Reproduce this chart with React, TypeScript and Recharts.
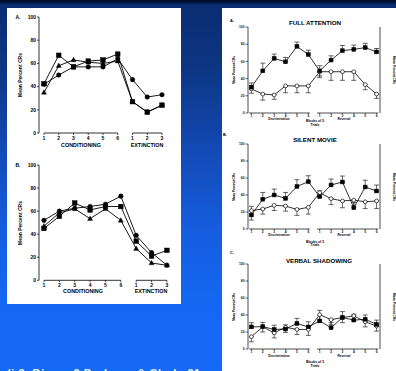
import React from 'react';
import { LineChart, Line, XAxis, YAxis, ErrorBar, ReferenceLine } from 'recharts';

const FONT = '"Liberation Sans", Arial, Helvetica, sans-serif';

// ---- Left figure: conditioning blocks 1–6 followed by extinction blocks 1–3
const conditioningBlocks = ['1', '2', '3', '4', '5', '6'];
const extinctionBlocks = ['1', '2', '3'];
const percentTicks = [0, 20, 40, 60, 80, 100];

// Panel A
const aSquares = [42.5, 67, 57, 62, 63, 68, 27, 18, 24];
const aTriangles = [35, 58, 63, 61, 60, 62, 27, 18, 24];
const aCircles = [42, 50, 57, 57, 57, 64, 46, 31, 33];

// Panel B
const bCircles = [52, 60, 62.5, 64, 66, 73, 39, 24, 13];
const bSquares = [45, 55.5, 67, 61, 64, 64, 34, 21, 26];
const bTriangles = [47, 58.5, 62, 53.5, 62, 52, 27.5, 15, 13];

// ---- Right figure: discrimination blocks 1–6 then reversal blocks 1–6
const discriminationBlocks = ['1', '2', '3', '4', '5', '6'];
const reversalBlocks = ['1', '2', '3', '4', '5', '6'];

// Full attention
const fullFilled = [30, 49, 63.5, 59.5, 77.5, 68, 49, 61.5, 72.5, 74, 76, 71];
const fullFilledUp = [5, 9, 5, 5, 5, 5, 6, 5, 6, 5, 5, 4];
const fullFilledDown = [0, 0, 0, 0, 0, 0, 6, 0, 0, 0, 0, 0];
const fullOpen = [28, 22, 21, 31.5, 31.5, 31.5, 48, 48, 48, 48, 33, 22];
const fullOpenUp = [4, 0, 0, 0, 0, 0, 0, 0, 0, 0, 0, 0];
const fullOpenDown = [5, 7, 5, 8, 8, 8, 7, 10, 10, 10, 6, 5];

// Silent movie
const silentFilled = [16.5, 35, 40, 36, 50, 55.7, 38, 51.8, 55.3, 25, 49.4, 44.7];
const silentFilledUp = [0, 8, 7, 7, 8, 7, 7, 7, 7, 6, 8, 7];
const silentFilledDown = [6, 0, 0, 0, 0, 0, 0, 0, 0, 0, 0, 0];
const silentOpen = [21.6, 23.5, 27.8, 27, 23, 25.5, 42.7, 35.7, 33, 34, 32, 33];
const silentOpenUp = [5, 0, 0, 0, 0, 0, 0, 0, 0, 0, 0, 0];
const silentOpenDown = [0, 6, 6, 6, 7, 8, 5, 7, 8, 7, 8, 9];

// Verbal shadowing
const verbalFilled = [26, 26.3, 23, 23.5, 30, 26, 33, 25, 37, 34, 35, 29];
const verbalFilledUp = [5, 5, 5, 5, 6, 6, 7, 6, 7, 7, 5, 5];
const verbalFilledDown = [0, 0, 0, 0, 0, 0, 0, 0, 0, 0, 0, 0];
const verbalOpen = [14.5, 26, 19, 25.5, 23, 23, 40.4, 34.5, 37, 39, 32, 27];
const verbalOpenUp = [0, 0, 0, 0, 0, 0, 5, 0, 0, 0, 0, 0];
const verbalOpenDown = [6, 6, 6, 6, 6, 7, 6, 6, 6, 6, 6, 6];

const leftLabels = [...conditioningBlocks, ...extinctionBlocks];
const rightLabels = [...discriminationBlocks, ...reversalBlocks];

const leftRows = (sq: number[], tri: number[], ci: number[]) =>
  leftLabels.map((_, i) => ({ x: i + 1, sq: sq[i], tri: tri[i], ci: ci[i] }));

const rightRows = (
  filled: number[], fUp: number[], fDown: number[],
  open: number[], oUp: number[], oDown: number[],
) =>
  rightLabels.map((_, i) => ({
    x: i + 1,
    filled: filled[i],
    fErr: [fDown[i], fUp[i]],
    open: open[i],
    oErr: [oDown[i], oUp[i]],
  }));

// ---- marker shapes
const squareDot = (size: number, fill: string) => (p: any) => (
  <rect key={`s${p.index}`} x={p.cx - size / 2} y={p.cy - size / 2} width={size} height={size}
    fill={fill} stroke="#000" strokeWidth={0.5} />
);
const triangleDot = (size: number) => (p: any) => {
  const h = size * 0.9;
  const pts = `${p.cx},${p.cy - h * 0.6} ${p.cx - size / 2},${p.cy + h * 0.4} ${p.cx + size / 2},${p.cy + h * 0.4}`;
  return <polygon key={`t${p.index}`} points={pts} fill="#000" stroke="#000" strokeWidth={0.4} />;
};
const circleDot = (r: number, fill: string, sw: number) => (p: any) => (
  <circle key={`c${p.index}`} cx={p.cx} cy={p.cy} r={r} fill={fill} stroke="#000" strokeWidth={sw} />
);

const Txt = ({ x, y, size, children, rotate = 0, color = '#000', weight = 700 }: any) => (
  <div style={{
    position: 'absolute', left: x, top: y, transform: `translate(-50%, -50%) rotate(${rotate}deg)`,
    fontSize: size, fontWeight: weight, fontFamily: FONT, color, whiteSpace: 'nowrap', lineHeight: 1,
  }}>{children}</div>
);

const leftTick = (v: number) => leftLabels[v - 1] ?? '';
const rightTick = (v: number) => rightLabels[v - 1] ?? '';

function LeftChart({ top, rows, domain, mRight, mBottom }: any) {
  const tickStyle = { fontSize: 5, fontWeight: 700, fill: '#000', fontFamily: FONT };
  return (
    <div style={{ position: 'absolute', left: 0, top, width: 180, height: 150 }}>
      <LineChart width={180} height={150} data={rows} margin={{ top: 17, right: mRight, bottom: mBottom, left: 0 }}>
        <XAxis dataKey="x" type="number" domain={domain} allowDataOverflow ticks={[1, 2, 3, 4, 5, 6, 7, 8, 9]}
          tickFormatter={leftTick} interval={0} axisLine={false} tickLine={{ stroke: '#000', strokeWidth: 0.7 }}
          tickSize={2} tickMargin={1} height={12} tick={tickStyle} />
        <YAxis type="number" domain={[0, 100]} ticks={percentTicks} interval={0} width={39}
          tickSize={2} tickMargin={1} axisLine={{ stroke: '#000', strokeWidth: 0.8 }}
          tickLine={{ stroke: '#000', strokeWidth: 0.7 }} tick={tickStyle} />
        <ReferenceLine segment={[{ x: 1, y: 0 }, { x: 6, y: 0 }]} stroke="#000" strokeWidth={0.8} ifOverflow="visible" />
        <ReferenceLine segment={[{ x: 7, y: 0 }, { x: 9, y: 0 }]} stroke="#000" strokeWidth={0.8} ifOverflow="visible" />
        <Line dataKey="ci" stroke="#000" strokeWidth={0.9} dot={circleDot(2.3, '#000', 0.4)} isAnimationActive={false} />
        <Line dataKey="tri" stroke="#000" strokeWidth={0.9} dot={triangleDot(5)} isAnimationActive={false} />
        <Line dataKey="sq" stroke="#000" strokeWidth={0.9} dot={squareDot(4.6, '#000')} isAnimationActive={false} />
      </LineChart>
    </div>
  );
}

function RightChart({ plotTop, plotH, rows }: any) {
  const tickStyle = { fontSize: 3.3, fontWeight: 700, fill: '#111', fontFamily: FONT };
  const mTop = 7;
  const h = plotH + mTop + 6 + 2;
  return (
    <div style={{ position: 'absolute', left: 222, top: plotTop - mTop, width: 174, height: h }}>
      <LineChart width={174} height={h} data={rows} margin={{ top: mTop, right: 0, bottom: 2, left: 0 }}>
        <XAxis dataKey="x" type="number" domain={[0.7, 12.3]} allowDataOverflow
          ticks={[1, 2, 3, 4, 5, 6, 7, 8, 9, 10, 11, 12]} tickFormatter={rightTick} interval={0}
          axisLine={false} tickLine={{ stroke: '#000', strokeWidth: 0.6 }} tickSize={1.2} tickMargin={0.3}
          height={6} tick={tickStyle} />
        <YAxis yAxisId="l" type="number" domain={[0, 100]} ticks={percentTicks} interval={0} width={26}
          tickSize={2.5} tickMargin={1} axisLine={{ stroke: '#000', strokeWidth: 0.7 }}
          tickLine={{ stroke: '#000', strokeWidth: 0.6 }} tick={tickStyle} />
        <YAxis yAxisId="r" orientation="right" type="number" domain={[0, 100]} ticks={percentTicks} interval={0}
          width={16} tickSize={2} tickMargin={1} axisLine={{ stroke: '#000', strokeWidth: 0.7 }}
          tickLine={{ stroke: '#000', strokeWidth: 0.6 }} tick={tickStyle} />
        <ReferenceLine yAxisId="l" segment={[{ x: 0.8, y: 0 }, { x: 6.13, y: 0 }]} stroke="#000" strokeWidth={0.7} ifOverflow="visible" />
        <ReferenceLine yAxisId="l" segment={[{ x: 6.77, y: 0 }, { x: 12.15, y: 0 }]} stroke="#000" strokeWidth={0.7} ifOverflow="visible" />
        <Line yAxisId="l" dataKey="open" stroke="#000" strokeWidth={0.8} dot={circleDot(1.9, '#fff', 0.65)} isAnimationActive={false}>
          <ErrorBar dataKey="oErr" direction="y" width={2.5} stroke="#000" strokeWidth={0.6} />
        </Line>
        <Line yAxisId="l" dataKey="filled" stroke="#000" strokeWidth={0.8} dot={squareDot(3.8, '#000')} isAnimationActive={false}>
          <ErrorBar dataKey="fErr" direction="y" width={2.5} stroke="#000" strokeWidth={0.6} />
        </Line>
      </LineChart>
    </div>
  );
}

function RightLabels({ letter, lx, ly, title, tx, ty, mid, discY, blocksY }: any) {
  return (
    <>
      <Txt x={lx} y={ly} size={4}>{letter}</Txt>
      <Txt x={tx} y={ty} size={6.2}>{title}</Txt>
      <Txt x={235} y={mid} size={3.2} rotate={-90}>Mean Percent CRs</Txt>
      <Txt x={393} y={mid} size={3.2} rotate={90}>Mean Percent CRs</Txt>
      <Txt x={279} y={discY} size={3.1}>Discrimination</Txt>
      <Txt x={344} y={discY} size={3.1}>Reversal</Txt>
      <Txt x={315} y={blocksY} size={3.4}>Blocks of 5</Txt>
      <Txt x={315} y={blocksY + 3.6} size={3.4}>Trials</Txt>
    </>
  );
}

export default function App() {
  return (
    <div style={{
      position: 'absolute', left: 0, top: 0, width: 396, height: 371, overflow: 'hidden',
      background: 'linear-gradient(to bottom, #020a22 0px, #04113a 2px, #0a2c72 5px, #0c3682 18%, #1349b4 40%, #165ddf 62%, #1467f2 82%, #1469f5 100%)',
    }}>
      {/* left sheet */}
      <div style={{ position: 'absolute', left: 7, top: 8, width: 174, height: 296, background: '#fff' }} />
      {/* right sheet */}
      <div style={{ position: 'absolute', left: 222, top: 8, width: 174, height: 363, background: '#fff' }} />

      <LeftChart top={0} rows={leftRows(aSquares, aTriangles, aCircles)} domain={[0.661, 9.203]} mRight={15} mBottom={5} />
      <Txt x={18} y={17} size={5}>A.</Txt>
      <Txt x={20} y={75} size={5} rotate={-90}>Mean Percent CRs</Txt>
      <Txt x={81} y={146} size={5.4}>CONDITIONING</Txt>
      <Txt x={147} y={146} size={5.4}>EXTINCTION</Txt>

      <LeftChart top={148} rows={leftRows(bSquares, bTriangles, bCircles)} domain={[0.675, 9.2]} mRight={10} mBottom={5.7} />
      <Txt x={18} y={165} size={5}>B.</Txt>
      <Txt x={20} y={223} size={5} rotate={-90}>Mean Percent CRs</Txt>
      <Txt x={83} y={292} size={5.4}>CONDITIONING</Txt>
      <Txt x={151} y={292} size={5.4}>EXTINCTION</Txt>

      <RightChart plotTop={27} plotH={86}
        rows={rightRows(fullFilled, fullFilledUp, fullFilledDown, fullOpen, fullOpenUp, fullOpenDown)} />
      <RightLabels letter="A." lx={232} ly={20.5} title="FULL ATTENTION" tx={315} ty={23}
        mid={70} discY={120.4} blocksY={122.3} />

      <RightChart plotTop={144} plotH={85}
        rows={rightRows(silentFilled, silentFilledUp, silentFilledDown, silentOpen, silentOpenUp, silentOpenDown)} />
      <RightLabels letter="B." lx={225} ly={135} title="SILENT MOVIE" tx={315} ty={140}
        mid={186.5} discY={236.3} blocksY={242.7} />

      <RightChart plotTop={264} plotH={85}
        rows={rightRows(verbalFilled, verbalFilledUp, verbalFilledDown, verbalOpen, verbalOpenUp, verbalOpenDown)} />
      <RightLabels letter="C." lx={232} ly={253} title="VERBAL SHADOWING" tx={319} ty={261}
        mid={306.5} discY={357.3} blocksY={363.3} />

      <div style={{
        position: 'absolute', left: 7, top: 367.5, fontSize: 11, fontWeight: 700, fontFamily: FONT,
        color: '#e8eefc', whiteSpace: 'nowrap', letterSpacing: 0.6, lineHeight: 1,
      }}>(i.3. Dixon, 2 Prokasy, &amp; Clark, 21</div>
    </div>
  );
}
